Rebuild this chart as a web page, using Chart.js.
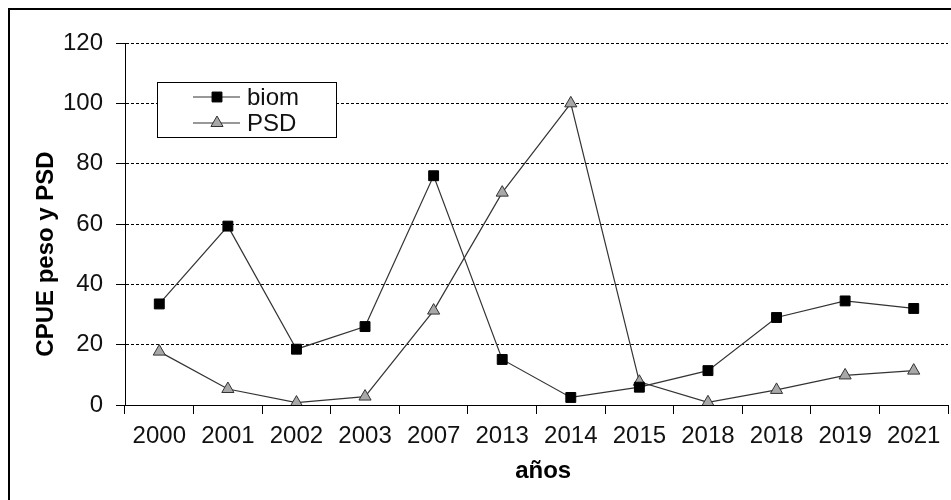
<!DOCTYPE html>
<html><head><meta charset="utf-8">
<script src="https://cdn.jsdelivr.net/npm/chart.js@4/dist/chart.umd.min.js"></script>
<style>html,body{margin:0;padding:0;background:#fff}#wrap{width:951px;height:500px;position:relative}canvas{display:block}</style>
</head><body><div id="wrap"><canvas id="c" width="951" height="500"></canvas></div>
<script>
const categories = ['2000','2001','2002','2003','2007','2013','2014','2015','2018','2018','2019','2021'];
const biomValues = [33.5, 59.3, 18.5, 26, 76, 15.1, 2.5, 5.9, 11.4, 29, 34.5, 32];
const psdValues = [17.7, 5.3, 0.8, 2.8, 31.3, 70.4, 100, 7.7, 0.9, 5, 9.8, 11.4];
const yTickValues = [0, 20, 40, 60, 80, 100, 120];
const seriesNames = ['biom', 'PSD'];
const xTitle = 'años';
const yTitle = 'CPUE peso y PSD';

const FONT = "'Liberation Sans', Arial, sans-serif";

const frame = {
  id: 'frame',
  beforeDraw(chart) {
    const ctx = chart.ctx;
    ctx.save();
    ctx.fillStyle = '#fff';
    ctx.fillRect(0, 0, chart.width, chart.height);
    ctx.strokeStyle = '#000';
    ctx.lineWidth = 2;
    ctx.beginPath();
    ctx.moveTo(9, chart.height);
    ctx.lineTo(9, 9);
    ctx.lineTo(chart.width, 9);
    ctx.stroke();
    ctx.restore();
  }
};

function drawMarker(ctx, style, x, y, r, fill, stroke) {
  ctx.save();
  ctx.fillStyle = fill; ctx.strokeStyle = stroke; ctx.lineWidth = 1;
  ctx.beginPath();
  if (style === 'rect') {
    const s = r * Math.SQRT1_2;
    ctx.rect(x - s, y - s, 2 * s, 2 * s);
  } else {
    const w = r * Math.sin(Math.PI / 3);
    ctx.moveTo(x, y - r);
    ctx.lineTo(x + w, y + r / 2);
    ctx.lineTo(x - w, y + r / 2);
    ctx.closePath();
  }
  ctx.fill(); ctx.stroke();
  ctx.restore();
}

const boxLegend = {
  id: 'boxLegend',
  afterDatasetsDraw(chart) {
    const ctx = chart.ctx;
    ctx.save();
    const bx = 157, by = 82, bw = 179, bh = 55;
    ctx.fillStyle = '#fff';
    ctx.fillRect(bx, by, bw, bh);
    ctx.strokeStyle = '#000';
    ctx.lineWidth = 1;
    ctx.strokeRect(bx + 0.5, by + 0.5, bw, bh);
    chart.data.datasets.forEach((ds, i) => {
      const y = 97 + i * 26;
      ctx.strokeStyle = ds.borderColor;
      ctx.lineWidth = ds.borderWidth;
      ctx.beginPath();
      ctx.moveTo(193, y); ctx.lineTo(240, y);
      ctx.stroke();
      drawMarker(ctx, ds.pointStyle, 217, y, ds.pointRadius, ds.pointBackgroundColor, ds.pointBorderColor);
      ctx.fillStyle = '#111';
      ctx.font = '24px ' + FONT;
      ctx.textBaseline = 'middle';
      ctx.textAlign = 'left';
      ctx.fillText(ds.label, 247, y + 1);
    });
    ctx.restore();
  }
};

new Chart(document.getElementById('c'), {
  type: 'line',
  data: {
    labels: categories,
    datasets: [
      {
        label: seriesNames[0], data: biomValues,
        borderColor: '#333', borderWidth: 1.2,
        pointStyle: 'rect', pointRadius: 7, pointHoverRadius: 7,
        pointBackgroundColor: '#000', pointBorderColor: '#000', pointBorderWidth: 1,
        tension: 0, fill: false
      },
      {
        label: seriesNames[1], data: psdValues,
        borderColor: '#333', borderWidth: 1.2,
        pointStyle: 'triangle', pointRadius: 7, pointHoverRadius: 7,
        pointBackgroundColor: '#a8a8a8', pointBorderColor: '#333', pointBorderWidth: 1,
        tension: 0, fill: false
      }
    ]
  },
  options: {
    responsive: false,
    maintainAspectRatio: false,
    animation: false,
    devicePixelRatio: 1,
    layout: { autoPadding: false, padding: { top: 43, right: 3, left: 0, bottom: 0 } },
    plugins: { legend: { display: false }, tooltip: { enabled: false } },
    scales: {
      x: {
        type: 'category',
        offset: true,
        grid: { offset: true, drawOnChartArea: false, drawTicks: true, tickLength: 9, color: '#000', lineWidth: 1 },
        border: { display: true, color: '#000', width: 1 },
        ticks: { color: '#111', font: { family: FONT, size: 24 }, padding: 8, maxRotation: 0, autoSkip: false },
        title: { display: true, text: '  ' + xTitle, color: '#000', font: { family: FONT, size: 24, weight: 'bold' }, padding: { top: 0, bottom: 14 } },
        afterFit(s) { s.height = 95; s.paddingLeft = 0; s.paddingRight = 0; }
      },
      y: {
        min: 0, max: 120,
        afterBuildTicks(s) { s.ticks = yTickValues.map(v => ({ value: v })); },
        grid: { color: '#000', lineWidth: 1, tickLength: 9, tickBorderDash: [], drawTicks: true },
        border: { display: true, color: '#000', width: 1, dash: [3, 2] },
        ticks: { color: '#111', font: { family: FONT, size: 24 }, padding: 13 },
        title: { display: true, text: yTitle + '\u00a0\u00a0\u00a0\u00a0\u00a0\u00a0\u00a0\u00a0\u00a0', color: '#000', font: { family: FONT, size: 24, weight: 'bold' }, padding: { top: 32, bottom: 0 } },
        afterFit(s) { s.width = 125; s.paddingTop = 0; s.paddingBottom = 0; }
      }
    }
  },
  plugins: [frame, boxLegend]
});
</script>
</body></html>
